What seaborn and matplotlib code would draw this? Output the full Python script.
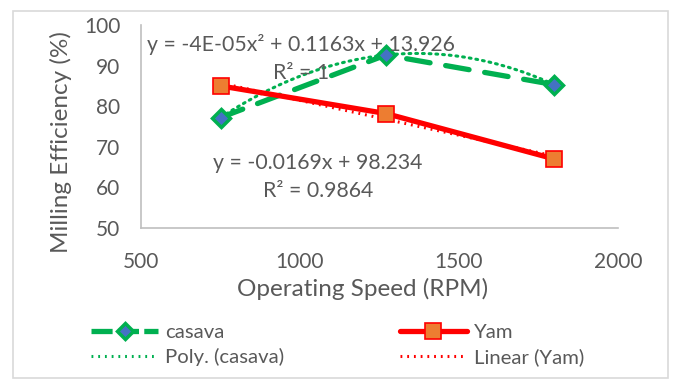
import numpy as np
import pandas as pd
import matplotlib
matplotlib.use("Agg")
import matplotlib.pyplot as plt
import seaborn as sns
from matplotlib.patches import Rectangle
from matplotlib.lines import Line2D

# ---- data ----
speed = [750, 1270, 1800]
casava = [77.2, 92.6, 85.3]
yam = [85.0, 78.2, 67.0]
x_ticks = [500, 1000, 1500, 2000]
y_ticks = [50, 60, 70, 80, 90, 100]
poly_label = "y = -4E-05x\u00b2 + 0.1163x + 13.926\nR\u00b2 = 1"
lin_label = "y = -0.0169x + 98.234\nR\u00b2 = 0.9864"

sns.set_style("white")
plt.rcParams['font.family'] = ['Lato', 'DejaVu Sans']

W, H = 674, 381
fig = plt.figure(figsize=(W / 100, H / 100), dpi=100)
ax = fig.add_axes([141 / W, 1 - 228 / H, (618 - 141) / W, (228 - 25) / H])

gray_txt = "#595959"
green = "#00B050"
red = "#FF0000"

df = pd.DataFrame({"speed": speed, "casava": casava, "yam": yam})

# trendlines
xs = np.linspace(min(speed), max(speed), 200)
pc = np.polyfit(speed, casava, 2)
pl = np.polyfit(speed, yam, 1)
trend = pd.DataFrame({"x": xs, "poly": np.polyval(pc, xs), "lin": np.polyval(pl, xs)})

sns.lineplot(data=trend, x="x", y="poly", ax=ax, color=green, lw=2.2,
             linestyle=(0, (0.6, 1.6)), dash_capstyle="round", zorder=2)
sns.lineplot(data=trend, x="x", y="lin", ax=ax, color=red, lw=2.2,
             linestyle=(0, (0.6, 1.6)), zorder=2)

sns.lineplot(data=df, x="speed", y="casava", ax=ax, color=green, lw=3.8,
             marker="D", markersize=9, markerfacecolor="#4472C4",
             markeredgecolor=green, markeredgewidth=2.5, zorder=3)
ax.lines[-1].set_dashes((4.5, 3))
ax.lines[-1].set_dash_capstyle("round")
sns.lineplot(data=df, x="speed", y="yam", ax=ax, color=red, lw=3.8,
             marker="s", markersize=12, markerfacecolor="#ED7D31",
             markeredgecolor=red, markeredgewidth=1.2, zorder=4)

ax.set_xlim(500, 2000)
ax.set_ylim(50, 100)
ax.set_xticks(x_ticks)
ax.set_yticks(y_ticks)
ax.tick_params(axis="both", length=0, labelsize=15, colors=gray_txt, pad=15)
ax.tick_params(axis="x", pad=17)
for s in ["top", "right"]:
    ax.spines[s].set_visible(False)
for s in ["left", "bottom"]:
    ax.spines[s].set_color("#BFBFBF")
    ax.spines[s].set_linewidth(1.2)

ax.set_xlabel("Operating Speed (RPM)", fontsize=17.5, color=gray_txt)
ax.set_ylabel("Milling Efficiency (%)", fontsize=17.5, color=gray_txt)
ax.xaxis.set_label_coords((363 - 141) / 477, -(278 - 228) / 203)
ax.yaxis.set_label_coords((72 - 141) / 477, (228 - 142) / 203)

fig.text(301 / W, 1 - 58.5 / H, poly_label, ha="center", va="center",
         multialignment="center", fontsize=15.3, color=gray_txt, linespacing=1.45)
fig.text(318 / W, 1 - 177 / H, lin_label, ha="center", va="center",
         multialignment="center", fontsize=15.3, color=gray_txt, linespacing=1.45)

handles = [
    Line2D([], [], color=green, lw=3.8, dashes=(4, 1.0), marker="D", markersize=8.5,
           markerfacecolor="#4472C4", markeredgecolor=green, markeredgewidth=2.5),
    Line2D([], [], color=green, lw=2.2, linestyle=(0, (0.6, 1.6))),
    Line2D([], [], color=red, lw=3.8, marker="s", markersize=12,
           markerfacecolor="#ED7D31", markeredgecolor=red, markeredgewidth=1.2),
    Line2D([], [], color=red, lw=2.2, linestyle=(0, (0.6, 1.6))),
]
labels = ["casava", "Poly. (casava)", "Yam", "Linear (Yam)"]
leg = fig.legend(handles, labels, ncol=2, loc="upper left",
                 bbox_to_anchor=(73 / W, 1 - 306 / H), frameon=False,
                 fontsize=14.6, handlelength=3.3, columnspacing=5.7,
                 labelspacing=0.32, handletextpad=0.35)
for t in leg.get_texts():
    t.set_color(gray_txt)

fig.patches.append(Rectangle((13 / W, 1 - 378 / H), (668 - 13) / W, (378 - 11) / H,
                             transform=fig.transFigure, fill=False,
                             edgecolor="#D9D9D9", lw=1.2))

fig.savefig("out.png", dpi=100)
